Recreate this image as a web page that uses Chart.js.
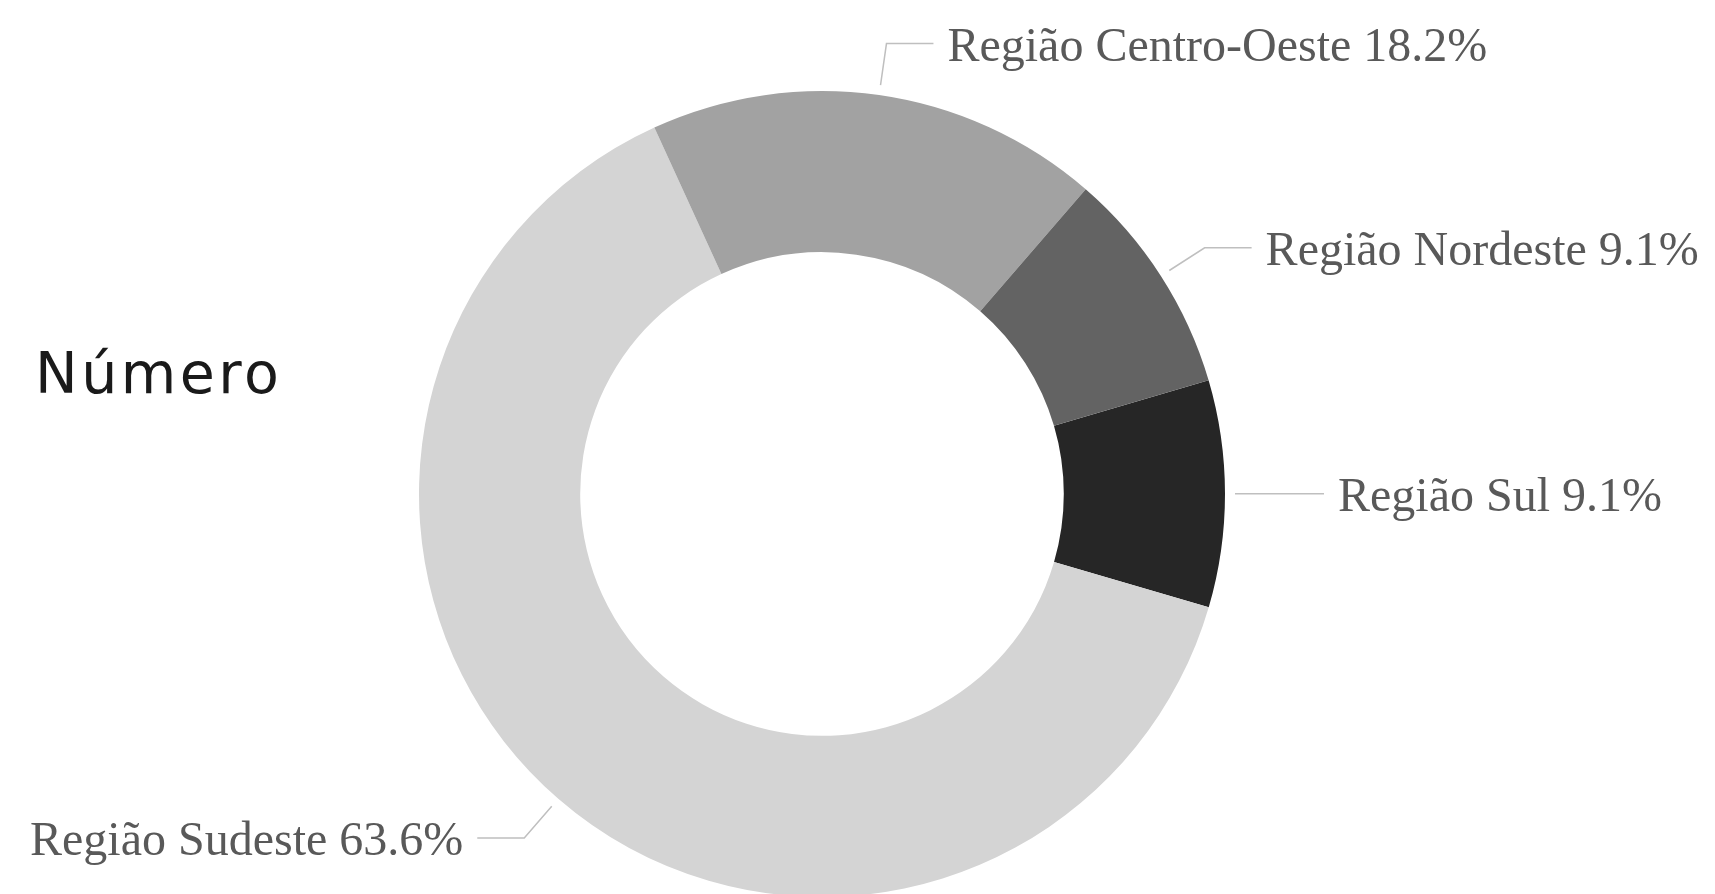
<!DOCTYPE html>
<html>
<head>
<meta charset="utf-8">
<script src="https://cdn.jsdelivr.net/npm/chart.js@4/dist/chart.umd.min.js"></script>
<style>
  html, body { margin: 0; padding: 0; background: #fff; overflow: hidden; }
  #wrap { position: relative; width: 1715px; height: 910px; }
</style>
</head>
<body>
<div id="wrap"><canvas id="chart"></canvas></div>
<script>
"use strict";

// data, in drawing order (clockwise from the right)
const regions = ['Região Sul', 'Região Sudeste', 'Região Centro-Oeste', 'Região Nordeste'];
const counts = [1, 7, 2, 1];
const sliceColors = ['#262626', '#d4d4d4', '#a2a2a2', '#636363'];
const chartTitle = 'Número';

const total = counts.reduce((a, b) => a + b, 0);

// leader lines + labels beside each slice, and the title on the left
const outsideLabels = {
  id: 'outsideLabels',
  afterDraw(chart) {
    const ctx = chart.ctx;
    const arcs = chart.getDatasetMeta(0).data;
    ctx.save();
    arcs.forEach(function(arc, i) {
      const mid = (arc.startAngle + arc.endAngle) / 2;
      const c = Math.cos(mid), s = Math.sin(mid);
      const r0 = arc.outerRadius + 10, r1 = arc.outerRadius + 52;
      const ex = arc.x + c * r1, ey = arc.y + s * r1;
      const dir = c >= 0 ? 1 : -1;
      const hx = ex + dir * 47;

      ctx.strokeStyle = '#bfbfbf';
      ctx.lineWidth = 1.5;
      ctx.beginPath();
      ctx.moveTo(arc.x + c * r0, arc.y + s * r0);
      ctx.lineTo(ex, ey);
      ctx.lineTo(hx, ey);
      ctx.stroke();

      const pct = (counts[i] / total * 100).toFixed(1) + '%';
      ctx.fillStyle = '#595959';
      ctx.font = '48px "Liberation Serif", "Times New Roman", serif';
      ctx.textBaseline = 'alphabetic';
      ctx.textAlign = dir > 0 ? 'left' : 'right';
      ctx.fillText(regions[i] + ' ' + pct, hx + dir * 14, ey + 17);
    });

    ctx.fillStyle = '#1a1a1a';
    ctx.font = '57px "DejaVu Sans", sans-serif';
    ctx.letterSpacing = '3.5px';
    ctx.textAlign = 'left';
    ctx.textBaseline = 'alphabetic';
    ctx.fillText(chartTitle, 35, 393);
    ctx.restore();
  }
};

const chart = new Chart('chart', {
  type: 'doughnut',
  data: {
    labels: regions,
    datasets: [{
      data: counts,
      backgroundColor: sliceColors,
      borderWidth: 0
    }]
  },
  options: {
    responsive: true,
    maintainAspectRatio: false,
    animation: false,
    events: [],
    cutout: '60%',
    rotation: 73.6,
    layout: { padding: { left: 419, right: 490, top: 91, bottom: 13 } },
    plugins: {
      legend: { display: false },
      tooltip: { enabled: false }
    }
  },
  plugins: [outsideLabels]
});
</script>
</body>
</html>
